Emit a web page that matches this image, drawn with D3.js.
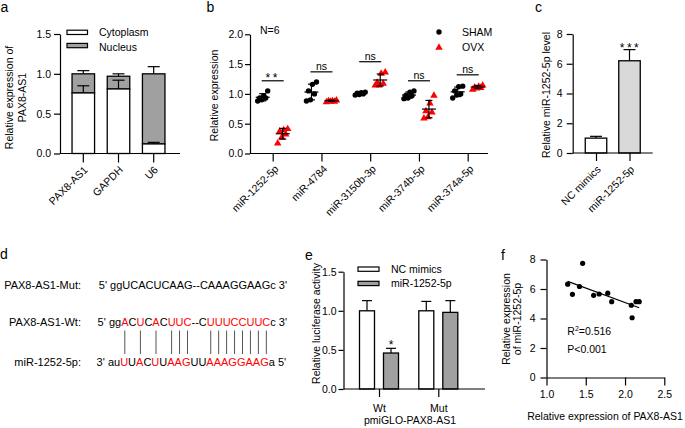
<!DOCTYPE html>
<html><head><meta charset="utf-8">
<script src="https://cdn.jsdelivr.net/npm/d3@7"></script>
<style>body{margin:0;background:#fff}</style>
</head><body><svg id="c" width="685" height="428"></svg>
<script>
// ---------- data ----------
// panel a
const fracCategories = ["PAX8-AS1", "GAPDH", "U6"];
const cytoplasm = [0.76, 0.81, 0.12];
const cytoplasmErr = [0.09, 0.11, 0.02];
const nucleus = [0.24, 0.16, 0.88];
const nucleusErr = [0.04, 0.03, 0.09];
const fracTicks = [0, 0.5, 1.0, 1.5];
const fracLegend = ["Cytoplasm", "Nucleus"];
// panel b
const mirCategories = ["miR-1252-5p", "miR-4784", "miR-3150b-3p", "miR-374b-5p", "miR-374a-5p"];
const shamValues = [
  [1.05, 0.97, 0.93, 0.90, 0.88, 0.93],
  [1.20, 1.16, 1.05, 1.00, 0.90, 0.88],
  [1.03, 1.02, 1.00, 0.99, 0.98, 1.01],
  [1.05, 1.03, 0.98, 0.97, 0.93, 0.92],
  [1.13, 1.12, 1.05, 1.00, 0.98, 0.93]
];
const ovxValues = [
  [0.42, 0.40, 0.38, 0.33, 0.28, 0.18],
  [0.90, 0.89, 0.88, 0.87, 0.88, 0.89],
  [1.37, 1.35, 1.18, 1.15, 1.15, 1.20],
  [0.98, 0.85, 0.72, 0.70, 0.62, 0.60],
  [1.15, 1.13, 1.11, 1.10, 1.08, 1.12]
];
const mirSig = ["**", "ns", "ns", "ns", "ns"];
const mirTicks = [0, 0.5, 1.0, 1.5, 2.0];
const mirLegend = ["SHAM", "OVX"];
// panel c
const mimicCategories = ["NC mimics", "miR-1252-5p"];
const mimicValues = [1.0, 6.2];
const mimicErr = [0.12, 0.75];
const mimicTicks = [0, 2, 4, 6, 8];
// panel d
const seqLabels = ["PAX8-AS1-Mut:", "PAX8-AS1-Wt:", "miR-1252-5p:"];
const seqPrefix = ["5' ", "5' ", "3' "];
const seqSuffix = [" 3'", " 3'", " 5'"];
const mutSeq = [["ggUCACUCAAG--CAAAGGAAGc", 0]];
const wtSeq = [["gg",0],["A",1],["C",0],["U",1],["C",0],["A",1],["C",0],["UUC",1],["--C",0],["UUUCCUUC",1],["c",0]];
const mirSeq = [["au",0],["U",1],["U",0],["A",1],["C",0],["U",1],["U",0],["AAG",1],["UU",0],["AAAGGAAG",1],["a",0]];
// panel e
const lucGroups = ["Wt", "Mut"];
const lucSeries = ["NC mimics", "miR-1252-5p"];
const lucNC = [1.0, 1.0];
const lucNCErr = [0.13, 0.12];
const lucMiR = [0.46, 0.98];
const lucMiRErr = [0.06, 0.15];
const lucSig = ["*", ""];
const lucTicks = [0, 0.5, 1.0, 1.5];
// panel f
const corrX = [1.27, 1.33, 1.42, 1.46, 1.60, 1.67, 1.78, 1.83, 2.08, 2.09, 2.14, 2.18];
const corrY = [6.33, 5.64, 6.17, 7.74, 5.57, 5.66, 5.72, 5.14, 4.90, 4.05, 5.14, 5.14];
const corrXTicks = [1.0, 1.5, 2.0, 2.5];
const corrYTicks = [0, 2, 4, 6, 8];
const corrStats = ["0.516", "P<0.001"];

// ---------- drawing ----------
const FONT = "Arial, 'Liberation Sans', Helvetica, sans-serif";
const FS = 10.5;
const RED = "#ff0000", DARK = "#a0a0a0", LIGHT = "#d9d9d9";
const svg = d3.select("#c").attr("font-family", FONT);
svg.append("rect").attr("width", 685).attr("height", 428).attr("fill", "#fff");

function styleAxis(g) {
  g.selectAll("path,line").attr("stroke", "#000").attr("stroke-width", 1.2);
  g.selectAll("text").attr("font-size", FS).attr("fill", "#000").attr("font-family", FONT);
}
function rotLabels(g, dx, dy) {
  g.selectAll(".tick text").attr("text-anchor", "end").attr("x", 0).attr("y", 0).attr("dy", 0)
    .attr("transform", `translate(${dx},${dy}) rotate(-45)`);
}
function letter(t, x, y) {
  svg.append("text").attr("x", x).attr("y", y).attr("font-size", 14).text(t);
}
function vlabel(t, x, y) {
  svg.append("text").attr("transform", `translate(${x},${y}) rotate(-90)`)
    .attr("text-anchor", "middle").attr("font-size", FS).text(t);
}
function errBar(g, x, y0, y1, w) {
  g.append("line").attr("x1", x).attr("x2", x).attr("y1", y0).attr("y2", y1).attr("stroke", "#000").attr("stroke-width", 1.2);
  g.append("line").attr("x1", x - w / 2).attr("x2", x + w / 2).attr("y1", y1).attr("y2", y1).attr("stroke", "#000").attr("stroke-width", 1.2);
}

// ===== panel a =====
{
  const g = svg.append("g");
  const y = d3.scaleLinear().domain([0, 1.5]).range([153.5, 34]);
  const x = d3.scaleBand().domain(fracCategories).range([65, 172]).paddingInner(0.36).paddingOuter(0.2);
  const bw = x.bandwidth();
  fracCategories.forEach((c, i) => {
    const cx = x(c) + bw / 2;
    errBar(g, cx, y(cytoplasm[i] + nucleus[i]), y(cytoplasm[i] + nucleus[i] + nucleusErr[i]), 12);
  });
  g.selectAll(".nuc").data(fracCategories).join("rect")
    .attr("x", d => x(d)).attr("width", bw)
    .attr("y", (d, i) => y(cytoplasm[i] + nucleus[i])).attr("height", (d, i) => y(cytoplasm[i]) - y(cytoplasm[i] + nucleus[i]))
    .attr("fill", DARK).attr("stroke", "#000").attr("stroke-width", 1.3);
  g.selectAll(".cyt").data(fracCategories).join("rect")
    .attr("x", d => x(d)).attr("width", bw)
    .attr("y", (d, i) => y(cytoplasm[i])).attr("height", (d, i) => y(0) - y(cytoplasm[i]))
    .attr("fill", "#fff").attr("stroke", "#000").attr("stroke-width", 1.3);
  fracCategories.forEach((c, i) => {
    const cx = x(c) + bw / 2;
    errBar(g, cx, y(cytoplasm[i]), y(cytoplasm[i] + cytoplasmErr[i]), 12);
  });
  g.append("g").attr("transform", "translate(60,0)")
    .call(d3.axisLeft(y).tickValues(fracTicks).tickFormat(d3.format(".1f")).tickSize(6).tickPadding(3).tickSizeOuter(0)).call(styleAxis);
  const xa = g.append("g").attr("transform", `translate(0,${y(0)})`)
    .call(d3.axisBottom(x).tickSize(9).tickSizeOuter(0)).call(styleAxis);
  xa.select(".domain").attr("d", "M60,0H180");
  rotLabels(xa, 5, 17);
  fracLegend.forEach((t, i) => {
    g.append("rect").attr("x", 67).attr("y", 30.2 + i * 13.2).attr("width", 20.5).attr("height", 4.3)
      .attr("fill", i ? DARK : "#fff").attr("stroke", "#000").attr("stroke-width", 1.2);
    g.append("text").attr("x", 99).attr("y", 36.3 + i * 15).attr("font-size", FS).text(t);
  });
  vlabel("Relative expression of", 13, 97.5);
  vlabel("PAX8-AS1", 26, 97.5);
  letter("a", 0.5, 11.7);
}

// ===== panel b =====
{
  const g = svg.append("g");
  const y = d3.scaleLinear().domain([0, 2]).range([153.5, 34.3]);
  const x = d3.scalePoint().domain(mirCategories).range([272.7, 467.7]);
  const jit = i => ((i % 3) - 1) * 4 + (i < 3 ? -1 : 1);
  mirCategories.forEach((c, gi) => {
    [[shamValues[gi], -10, 0], [ovxValues[gi], 10, 1]].forEach(([vals, off, tri]) => {
      const cx = x(c) + off;
      const sorted = vals.map((v, i) => ({ v, i })).sort((a, b) => a.v - b.v);
      sorted.forEach((p, k) => {
        const px = cx + jit(k);
        if (tri) {
          g.append("path").attr("d", d3.symbol(d3.symbolTriangle, 24)())
            .attr("transform", `translate(${px},${y(p.v) + 0.5})`).attr("fill", RED);
        } else {
          g.append("circle").attr("cx", px).attr("cy", y(p.v)).attr("r", 2.7).attr("fill", "#000");
        }
      });
      const m = d3.mean(vals), sd = d3.deviation(vals);
      g.append("line").attr("x1", cx - 7).attr("x2", cx + 7).attr("y1", y(m)).attr("y2", y(m)).attr("stroke", "#000").attr("stroke-width", 1.2);
      g.append("line").attr("x1", cx).attr("x2", cx).attr("y1", y(m - sd)).attr("y2", y(m + sd)).attr("stroke", "#000").attr("stroke-width", 1.2);
      [m - sd, m + sd].forEach(v => g.append("line").attr("x1", cx - 3.5).attr("x2", cx + 3.5).attr("y1", y(v)).attr("y2", y(v)).attr("stroke", "#000").attr("stroke-width", 1.2));
    });
    const top = d3.max(shamValues[gi].concat(ovxValues[gi])) + 0.17;
    g.append("line").attr("x1", x(c) - 11).attr("x2", x(c) + 11).attr("y1", y(top)).attr("y2", y(top)).attr("stroke", "#000").attr("stroke-width", 1.2);
    g.append("text").attr("x", x(c)).attr("y", y(top) - (mirSig[gi] === "ns" ? 1.5 : -1.5)).attr("text-anchor", "middle")
      .attr("font-size", mirSig[gi] === "ns" ? FS : 12).attr("letter-spacing", mirSig[gi] === "ns" ? 0 : 2.5).text(mirSig[gi]);
  });
  g.append("g").attr("transform", "translate(250,0)")
    .call(d3.axisLeft(y).tickValues(mirTicks).tickFormat(d3.format(".1f")).tickSize(5).tickPadding(2).tickSizeOuter(0)).call(styleAxis);
  const xa = g.append("g").attr("transform", `translate(0,${y(0)})`)
    .call(d3.axisBottom(x).tickSize(8).tickSizeOuter(0)).call(styleAxis);
  xa.select(".domain").attr("d", "M250,0H488");
  rotLabels(xa, 6, 16);
  g.append("text").attr("x", 260).attr("y", 33.5).attr("font-size", FS).text("N=6");
  g.append("circle").attr("cx", 439).attr("cy", 32).attr("r", 2.7).attr("fill", "#000");
  g.append("path").attr("d", d3.symbol(d3.symbolTriangle, 24)()).attr("transform", "translate(439,47.5)").attr("fill", RED);
  mirLegend.forEach((t, i) => g.append("text").attr("x", 462).attr("y", 36.3 + i * 14.7).attr("font-size", FS).text(t));
  vlabel("Relative expression", 218, 95.5);
  letter("b", 206.5, 11.7);
}

// ===== panel c =====
{
  const g = svg.append("g");
  const y = d3.scaleLinear().domain([0, 8]).range([153, 34]);
  const x = d3.scalePoint().domain(mimicCategories).range([596, 629.5]);
  const bw = 21.5;
  mimicCategories.forEach((c, i) => errBar(g, x(c), y(mimicValues[i]), y(mimicValues[i] + mimicErr[i]), 12));
  g.selectAll(".bar").data(mimicCategories).join("rect")
    .attr("x", d => x(d) - bw / 2).attr("width", bw)
    .attr("y", (d, i) => y(mimicValues[i])).attr("height", (d, i) => y(0) - y(mimicValues[i]))
    .attr("fill", (d, i) => i ? LIGHT : "#fff").attr("stroke", "#000").attr("stroke-width", 1.3);
  g.append("g").attr("transform", "translate(572.7,0)")
    .call(d3.axisLeft(y).tickValues(mimicTicks).tickFormat(d3.format("d")).tickSize(6).tickPadding(4).tickSizeOuter(0)).call(styleAxis);
  const xa = g.append("g").attr("transform", `translate(0,${y(0)})`)
    .call(d3.axisBottom(x).tickSize(8).tickSizeOuter(0)).call(styleAxis);
  xa.select(".domain").attr("d", "M572.7,0H652.7");
  rotLabels(xa, 5, 17);
  g.append("text").attr("x", x(mimicCategories[1]) + 1).attr("y", y(mimicValues[1] + mimicErr[1]) + 2)
    .attr("text-anchor", "middle").attr("font-size", 12).attr("letter-spacing", 2.5).text("***");
  vlabel("Relative miR-1252-5p level", 550, 95);
  letter("c", 535, 11.7);
}

// ===== panel d =====
{
  const g = svg.append("g").attr("font-size", 11);
  const seqs = [mutSeq, wtSeq, mirSeq];
  const rowY = [288.7, 325.8, 365.8];
  const rowX = [98.8, 97.6, 96.6];
  const nodes = [];
  seqs.forEach((s, r) => {
    g.append("text").attr("x", 81).attr("y", rowY[r]).attr("text-anchor", "end").text(seqLabels[r]);
    const t = g.append("text").attr("x", rowX[r]).attr("y", rowY[r]);
    t.append("tspan").text(seqPrefix[r]);
    s.forEach(([txt, red]) => t.append("tspan").attr("fill", red ? RED : "#000").text(txt));
    t.append("tspan").text(seqSuffix[r]);
    nodes.push(t.node());
  });
  // pairing lines at the red bases of the wild-type sequence
  let idx = seqPrefix[1].length;
  const wtNode = nodes[1];
  wtSeq.forEach(([txt, red]) => {
    for (let k = 0; k < txt.length; k++) {
      if (red) {
        const e = wtNode.getExtentOfChar(idx);
        const cx = e.x + e.width / 2;
        g.append("line").attr("x1", cx).attr("x2", cx).attr("y1", 330.5).attr("y2", 354)
          .attr("stroke", "#555").attr("stroke-width", 1);
      }
      idx++;
    }
  });
  letter("d", 0, 259.3);
}

// ===== panel e =====
{
  const g = svg.append("g");
  const y = d3.scaleLinear().domain([0, 1.5]).range([389, 271.7]);
  const x = d3.scalePoint().domain(lucGroups).range([379, 438.3]);
  const sub = d3.scalePoint().domain(lucSeries).range([-12, 12]);
  const bw = 15;
  const series = [[lucNC, lucNCErr, "#fff"], [lucMiR, lucMiRErr, DARK]];
  lucGroups.forEach((grp, gi) => {
    series.forEach(([vals, errs, fill], si) => {
      const cx = x(grp) + sub(lucSeries[si]);
      errBar(g, cx, y(vals[gi]), y(vals[gi] + errs[gi]), 10);
      g.append("rect").attr("x", cx - bw / 2).attr("width", bw).attr("y", y(vals[gi])).attr("height", y(0) - y(vals[gi]))
        .attr("fill", fill).attr("stroke", "#000").attr("stroke-width", 1.3);
    });
    if (lucSig[gi]) {
      const cx = x(grp) + sub(lucSeries[1]);
      g.append("text").attr("x", cx).attr("y", y(lucMiR[gi] + lucMiRErr[gi]) + 1).attr("text-anchor", "middle").attr("font-size", 12).text(lucSig[gi]);
    }
  });
  g.append("g").attr("transform", "translate(343.5,0)")
    .call(d3.axisLeft(y).tickValues(lucTicks).tickFormat(d3.format(".1f")).tickSize(5).tickPadding(2).tickSizeOuter(0)).call(styleAxis);
  const xa = g.append("g").attr("transform", `translate(0,${y(0)})`)
    .call(d3.axisBottom(x).tickSize(8).tickPadding(8).tickSizeOuter(0)).call(styleAxis);
  xa.select(".domain").attr("d", "M343.5,0H485");
  lucSeries.forEach((t, i) => {
    g.append("rect").attr("x", 358).attr("y", 267 + i * 14.3).attr("width", 21).attr("height", 4.3)
      .attr("fill", i ? DARK : "#fff").attr("stroke", "#000").attr("stroke-width", 1.2);
    g.append("text").attr("x", 391).attr("y", 273.3 + i * 14).attr("font-size", FS).text(t);
  });
  g.append("text").attr("x", 410).attr("y", 424.3).attr("text-anchor", "middle").attr("font-size", FS).text("pmiGLO-PAX8-AS1");
  vlabel("Relative luciferase activity", 319.5, 323.5);
  letter("e", 305, 260);
}

// ===== panel f =====
{
  const g = svg.append("g");
  const x = d3.scaleLinear().domain([1, 2.5]).range([546.5, 664.3]);
  const y = d3.scaleLinear().domain([0, 8]).range([377.5, 259.5]);
  const mx = d3.mean(corrX), my = d3.mean(corrY);
  const slope = d3.sum(corrX, (v, i) => (v - mx) * (corrY[i] - my)) / d3.sum(corrX, v => (v - mx) ** 2);
  const icpt = my - slope * mx;
  const [x0, x1] = d3.extent(corrX);
  g.append("line").attr("x1", x(x0)).attr("x2", x(x1)).attr("y1", y(icpt + slope * x0)).attr("y2", y(icpt + slope * x1))
    .attr("stroke", "#000").attr("stroke-width", 1.2);
  g.selectAll(".pt").data(corrX).join("circle").attr("cx", d => x(d)).attr("cy", (d, i) => y(corrY[i])).attr("r", 2.6).attr("fill", "#000");
  g.append("g").attr("transform", `translate(${x(1)},0)`)
    .call(d3.axisLeft(y).tickValues(corrYTicks).tickFormat(d3.format("d")).tickSize(6).tickPadding(5).tickSizeOuter(0)).call(styleAxis);
  g.append("g").attr("transform", `translate(0,${y(0)})`)
    .call(d3.axisBottom(x).tickValues(corrXTicks).tickFormat(d3.format(".1f")).tickSize(8).tickPadding(5).tickSizeOuter(0)).call(styleAxis);
  const r2 = g.append("text").attr("x", 567.3).attr("y", 335).attr("font-size", FS);
  r2.append("tspan").text("R");
  r2.append("tspan").attr("font-size", 7).attr("dy", -4).text("2");
  r2.append("tspan").attr("dy", 4).text("=" + corrStats[0]);
  g.append("text").attr("x", 567.3).attr("y", 353.3).attr("font-size", FS).text(corrStats[1]);
  g.append("text").attr("x", 605).attr("y", 419.5).attr("text-anchor", "middle").attr("font-size", FS).text("Relative expression of PAX8-AS1");
  vlabel("Relative expression", 509.5, 319);
  vlabel("of miR-1252-5p", 521, 319);
  letter("f", 501, 260);
}
</script></body></html>
